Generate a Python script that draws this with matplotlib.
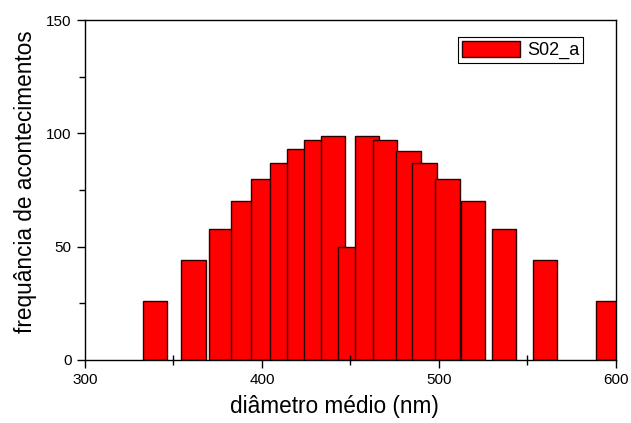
import matplotlib
matplotlib.use('Agg')
import matplotlib.pyplot as plt
from matplotlib.ticker import MultipleLocator

# bar centres (nm) and counts
diametros = [339.5, 361.3, 376.7, 389.4, 400.8, 411.4, 421.1, 430.7, 440.0,
             449.9, 459.5, 469.6, 482.8, 491.8, 504.8, 519.2, 536.7, 559.9, 595.9]
frequencias = [26, 44, 58, 70, 80, 87, 93, 97, 99,
               50, 99, 97, 92, 87, 80, 70, 58, 44, 26]
serie = 'S02_a'

plt.rcParams['font.family'] = ['Liberation Sans', 'DejaVu Sans']

fig = plt.figure(figsize=(6.31, 4.23), dpi=100)
ax = fig.add_axes([0.1347, 0.149, 0.8413, 0.8037])

ax.bar(diametros, frequencias, width=13.8, color='#ff0000',
       edgecolor='#2a0000', linewidth=1.0, label=serie, clip_on=True)

ax.set_xlim(300, 600)
ax.set_ylim(0, 150)
ax.xaxis.set_major_locator(MultipleLocator(100))
ax.xaxis.set_minor_locator(MultipleLocator(50))
ax.yaxis.set_major_locator(MultipleLocator(50))
ax.yaxis.set_minor_locator(MultipleLocator(25))
ax.tick_params(which='major', direction='out', length=6, width=1, labelsize=11)
ax.tick_params(axis='x', which='minor', direction='inout', length=7, width=1)
ax.tick_params(axis='y', which='minor', direction='out', length=4, width=1)

for s in ax.spines.values():
    s.set_linewidth(1.0)

ax.set_xlabel('diâmetro médio (nm)', fontsize=16.3)
ax.xaxis.set_label_coords(0.469, -0.102)
ax.set_ylabel('frequância de acontecimentos', fontsize=16.3)
ax.yaxis.set_label_coords(-0.091, 0.524)

leg = ax.legend(loc='upper right', bbox_to_anchor=(0.938, 0.95), fontsize=13,
                fancybox=False, framealpha=1, edgecolor='black',
                handlelength=3.2, handleheight=1.0, borderpad=0.2,
                handletextpad=0.4, borderaxespad=0)
leg.get_frame().set_linewidth(0.8)

fig.savefig('out.png', dpi=100)
